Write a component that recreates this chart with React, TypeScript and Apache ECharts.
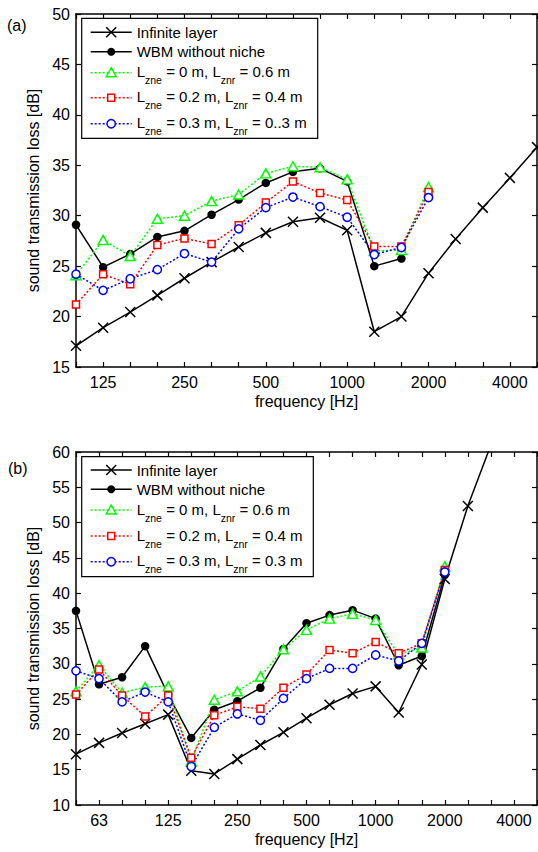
import React, { useEffect, useRef } from 'react';
import * as echarts from 'echarts';

// ---------- data ----------
const bandsA = ['100', '125', '160', '200', '250', '315', '400', '500', '630', '800', '1000', '1250', '1600', '2000', '2500', '3150', '4000', '5000'];
const tickLabelsA = ['125', '250', '500', '1000', '2000', '4000'];
const infiniteA = [17.1, 18.9, 20.45, 22.1, 23.8, 25.4, 26.9, 28.3, 29.4, 29.8, 28.55, 18.5, 20.0, 24.3, 27.7, 30.8, 33.75, 36.8];
const wbmA = [29.1, 24.9, 26.2, 27.9, 28.5, 30.1, 31.6, 33.25, 34.35, 34.7, 33.4, 25.0, 25.75, null, null, null, null, null];
const greenA = [24.1, 27.6, 26.0, 29.7, 30.0, 31.45, 32.1, 34.2, 34.9, 34.8, 33.6, 26.5, 26.6, 32.85, null, null, null, null];
const redA = [21.2, 24.2, 23.2, 27.1, 27.75, 27.2, 29.05, 31.3, 33.4, 32.25, 31.55, 26.95, 26.95, 32.35, null, null, null, null];
const blueA = [24.2, 22.6, 23.75, 24.65, 26.25, 25.4, 28.7, 30.8, 31.85, 30.9, 29.85, 26.15, 26.85, 31.8, null, null, null, null];

const bandsB = ['50', '63', '80', '100', '125', '160', '200', '250', '315', '400', '500', '630', '800', '1000', '1250', '1600', '2000', '2500', '3150', '4000', '5000'];
const tickLabelsB = ['63', '125', '250', '500', '1000', '2000', '4000'];
const infiniteB = [17.2, 18.8, 20.2, 21.5, 22.8, 14.85, 14.4, 16.5, 18.5, 20.3, 22.3, 24.2, 25.8, 26.8, 23.1, 29.9, 42.0, 52.35, 61.0, null, null];
const wbmB = [37.5, 27.1, 28.1, 32.5, 25.6, 19.5, 23.5, 24.7, 26.6, 32.1, 35.75, 36.9, 37.6, 36.4, 29.8, 31.1, 42.6, null, null, null, null];
const greenB = [26.1, 29.8, 25.9, 26.7, 26.8, 16.2, 24.9, 26.1, 28.2, 32.05, 34.8, 36.4, 37.1, 36.2, 31.3, 32.3, 43.8, null, null, null, null];
const redB = [25.65, 29.2, 25.5, 22.55, 25.5, 16.7, 22.7, 23.9, 23.65, 26.6, 28.5, 31.95, 31.5, 33.1, 31.5, 32.9, 43.3, null, null, null, null];
const blueB = [29.0, 27.9, 24.6, 26.0, 24.6, 15.45, 21.0, 22.9, 22.0, 25.1, 27.9, 29.35, 29.35, 31.25, 30.4, 32.9, 43.0, null, null, null, null];

const yRangeA = [15, 50];
const yRangeB = [10, 60];

const legendNamesA = [
  [{ t: 'Infinite layer' }],
  [{ t: 'WBM without niche' }],
  [{ t: 'L' }, { t: 'zne', sub: true }, { t: ' = 0 m, L' }, { t: 'znr', sub: true }, { t: ' = 0.6 m' }],
  [{ t: 'L' }, { t: 'zne', sub: true }, { t: ' = 0.2 m, L' }, { t: 'znr', sub: true }, { t: ' = 0.4 m' }],
  [{ t: 'L' }, { t: 'zne', sub: true }, { t: ' = 0.3 m, L' }, { t: 'znr', sub: true }, { t: ' = 0..3 m' }],
];
const legendNamesB = [
  [{ t: 'Infinite layer' }],
  [{ t: 'WBM without niche' }],
  [{ t: 'L' }, { t: 'zne', sub: true }, { t: ' = 0 m, L' }, { t: 'znr', sub: true }, { t: ' = 0.6 m' }],
  [{ t: 'L' }, { t: 'zne', sub: true }, { t: ' = 0.2 m, L' }, { t: 'znr', sub: true }, { t: ' = 0.4 m' }],
  [{ t: 'L' }, { t: 'zne', sub: true }, { t: ' = 0.3 m, L' }, { t: 'znr', sub: true }, { t: ' = 0.3 m' }],
];

// ---------- styling ----------
const FONT = "'Liberation Sans', Arial, Helvetica, sans-serif";
const GREEN = '#00ff00';
const RED = '#ff0000';
const BLUE = '#0000ff';
const DOT: number[] = [2, 2];
const XPATH = 'path://M0,0L10,10M10,0L0,10';
const kinds = ['x', 'dot', 'tri', 'sq', 'circ'];

let ctx: CanvasRenderingContext2D | null = null;
function measure(text: string, size: number) {
  if (!ctx) ctx = document.createElement('canvas').getContext('2d');
  if (!ctx) return text.length * size * 0.55;
  ctx.font = `${size}px ${FONT}`;
  return ctx.measureText(text).width;
}

function legendGraphics(box: { x: number; y: number; w: number; h: number }, rowsY: number[], names: any[]) {
  const els: any[] = [];
  els.push({
    type: 'rect', shape: { x: box.x, y: box.y, width: box.w, height: box.h },
    style: { fill: '#fff', stroke: '#000', lineWidth: 1.2 }, z: 100,
  });
  const lx1 = 90.7, lx2 = 131.7, cx = 111.2, tx = 136.7;
  rowsY.forEach((ry, i) => {
    const kind = kinds[i];
    const color = kind === 'tri' ? GREEN : kind === 'sq' ? RED : kind === 'circ' ? BLUE : '#000';
    els.push({
      type: 'line', shape: { x1: lx1, y1: ry, x2: lx2, y2: ry },
      style: { stroke: color, lineWidth: 1.5, lineDash: i >= 2 ? DOT : null }, z: 101,
    });
    if (kind === 'x') {
      els.push({ type: 'line', shape: { x1: cx - 5, y1: ry - 5, x2: cx + 5, y2: ry + 5 }, style: { stroke: '#000', lineWidth: 1.5 }, z: 102 });
      els.push({ type: 'line', shape: { x1: cx - 5, y1: ry + 5, x2: cx + 5, y2: ry - 5 }, style: { stroke: '#000', lineWidth: 1.5 }, z: 102 });
    } else if (kind === 'dot') {
      els.push({ type: 'circle', shape: { cx, cy: ry, r: 4 }, style: { fill: '#000' }, z: 102 });
    } else if (kind === 'tri') {
      els.push({ type: 'polygon', shape: { points: [[cx, ry - 5], [cx + 5, ry + 4], [cx - 5, ry + 4]] }, style: { fill: '#fff', stroke: GREEN, lineWidth: 1.5 }, z: 102 });
    } else if (kind === 'sq') {
      els.push({ type: 'rect', shape: { x: cx - 3.5, y: ry - 3.5, width: 7, height: 7 }, style: { fill: '#fff', stroke: RED, lineWidth: 1.5 }, z: 102 });
    } else {
      els.push({ type: 'circle', shape: { cx, cy: ry, r: 4.2 }, style: { fill: '#fff', stroke: BLUE, lineWidth: 1.5 }, z: 102 });
    }
    let x = tx;
    const pieces = names[i];
    const hasSub = pieces.length > 1;
    pieces.forEach((p: any) => {
      const size = p.sub ? 10.5 : 15;
      const y = p.sub ? ry + 7.5 : hasSub ? ry - 1 : ry;
      els.push({
        type: 'text', z: 103,
        style: { text: p.t, x, y, font: `${size}px ${FONT}`, fill: '#000', textAlign: 'left', textVerticalAlign: 'middle' },
      });
      x += measure(p.t, size);
    });
  });
  return els;
}

function xAxes(g: number, bands: string[], labels: string[]) {
  const common: any = {
    type: 'category', gridIndex: g, data: bands, boundaryGap: false,
    axisLine: { show: true, onZero: false, lineStyle: { color: '#000', width: 1.5 } },
    axisTick: { show: true, inside: true, length: 5, interval: 0, lineStyle: { color: '#000', width: 1.2 } },
    splitLine: { show: false },
  };
  return [
    {
      ...common, position: 'bottom',
      axisLabel: {
        interval: (_i: number, v: string) => labels.indexOf(v) >= 0,
        color: '#000', fontSize: 16, fontFamily: FONT, margin: 7,
      },
      name: 'frequency [Hz]', nameLocation: 'middle', nameGap: 26,
      nameTextStyle: { color: '#000', fontSize: 16, fontFamily: FONT },
    },
    { ...common, position: 'top', axisLabel: { show: false } },
  ];
}

function yAxes(g: number, range: number[]) {
  const common: any = {
    type: 'value', gridIndex: g, min: range[0], max: range[1], interval: 5,
    axisLine: { show: true, onZero: false, lineStyle: { color: '#000', width: 1.5 } },
    axisTick: { show: true, inside: true, length: 5, lineStyle: { color: '#000', width: 1.2 } },
    splitLine: { show: false },
  };
  return [
    {
      ...common, position: 'left',
      axisLabel: { color: '#000', fontSize: 16, fontFamily: FONT, margin: 6 },
      name: 'sound transmission loss [dB]', nameLocation: 'middle', nameGap: 32,
      nameTextStyle: { color: '#000', fontSize: 16, fontFamily: FONT },
    },
    { ...common, position: 'right', axisLabel: { show: false } },
  ];
}

function panelSeries(axisIdx: number, inf: any[], wbm: any[], g: any[], r: any[], b: any[]) {
  const base = { type: 'line', xAxisIndex: axisIdx, yAxisIndex: axisIdx, showAllSymbol: true, clip: true, connectNulls: false };
  return [
    {
      ...base, name: 'Infinite layer', data: inf, symbol: XPATH, symbolSize: 10,
      lineStyle: { color: '#000', width: 1.5 },
      itemStyle: { color: '#000', borderColor: '#000', borderWidth: 1.5 },
    },
    {
      ...base, name: 'WBM without niche', data: wbm, symbol: 'circle', symbolSize: 8.5,
      lineStyle: { color: '#000', width: 1.5 }, itemStyle: { color: '#000' },
    },
    {
      ...base, name: 'green', data: g, symbol: 'triangle', symbolSize: [10, 9],
      lineStyle: { color: GREEN, width: 1.5, type: DOT },
      itemStyle: { color: '#fff', borderColor: GREEN, borderWidth: 1.5 },
    },
    {
      ...base, name: 'red', data: r, symbol: 'rect', symbolSize: 7,
      lineStyle: { color: RED, width: 1.5, type: DOT },
      itemStyle: { color: '#fff', borderColor: RED, borderWidth: 1.5 },
    },
    {
      ...base, name: 'blue', data: b, symbol: 'circle', symbolSize: 8.2,
      lineStyle: { color: BLUE, width: 1.5, type: DOT },
      itemStyle: { color: '#fff', borderColor: BLUE, borderWidth: 1.5 },
    },
  ];
}

export default function App() {
  const ref = useRef<HTMLDivElement>(null);
  useEffect(() => {
    if (!ref.current) return;
    const chart = echarts.init(ref.current, null, { renderer: 'svg' });
    const xa = [...xAxes(0, bandsA, tickLabelsA), ...xAxes(1, bandsB, tickLabelsB)];
    const ya = [...yAxes(0, yRangeA), ...yAxes(1, yRangeB)];
    // series reference bottom x axis (0 / 2) and left y axis (0 / 2)
    const sA = panelSeries(0, infiniteA, wbmA, greenA, redA, blueA);
    const sB = panelSeries(2, infiniteB, wbmB, greenB, redB, blueB);
    chart.setOption({
      animation: false,
      backgroundColor: '#fff',
      grid: [
        { left: 76, top: 14, width: 461, height: 353 },
        { left: 76, top: 452, width: 461, height: 353 },
      ],
      xAxis: xa,
      yAxis: ya,
      series: [...sA, ...sB],
      graphic: [
        { type: 'text', style: { text: '(a)', x: 7, y: 25, font: `16px ${FONT}`, fill: '#000', textVerticalAlign: 'middle' } },
        { type: 'text', style: { text: '(b)', x: 8, y: 468, font: `16px ${FONT}`, fill: '#000', textVerticalAlign: 'middle' } },
        ...legendGraphics({ x: 81.7, y: 18.3, w: 236, h: 120 }, [32.3, 51.7, 72.7, 97.7, 123.7], legendNamesA),
        ...legendGraphics({ x: 81.7, y: 456.7, w: 231.6, h: 120 }, [470, 489.3, 510, 536, 561.7], legendNamesB),
      ],
    });
    return () => chart.dispose();
  }, []);
  return <div ref={ref} style={{ position: 'fixed', left: 0, top: 0, width: 538, height: 852, background: '#fff' }} />;
}
